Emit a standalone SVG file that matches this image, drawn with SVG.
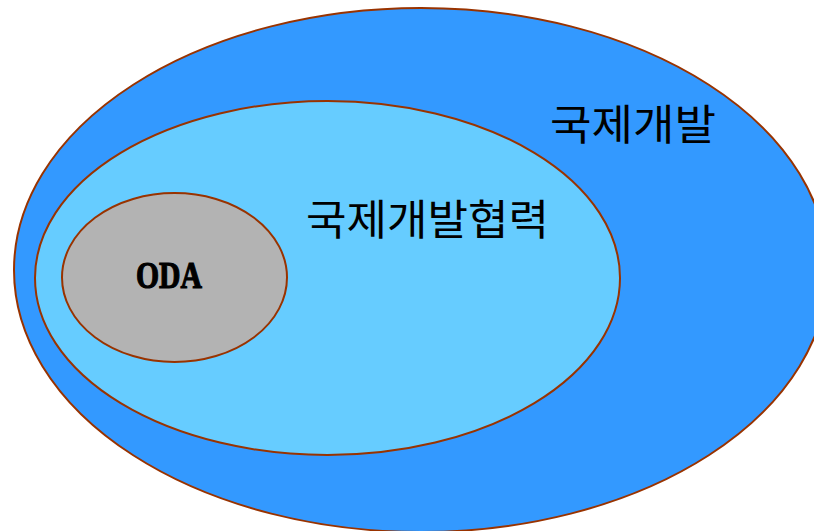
<svg xmlns="http://www.w3.org/2000/svg" width="814" height="531" viewBox="0 0 814 531">
<style>
.e{stroke:#993300;stroke-width:2}
.k{font-family:"Noto Sans CJK KR","Noto Sans",sans-serif;font-size:42px;fill:#000}
.o{font-family:"Liberation Serif","DejaVu Serif",serif;font-weight:bold;font-size:37px;fill:#000;stroke:#000;stroke-width:1.2}
</style>
<rect width="814" height="531" fill="#fff"/>
<g id="dev">
<ellipse class="e" cx="421" cy="270" rx="407" ry="262" fill="#3399ff"/>
<text class="k" x="550" y="140" textLength="166" lengthAdjust="spacingAndGlyphs">국제개발</text>
</g>
<g id="coop">
<ellipse class="e" cx="327.5" cy="278" rx="292.5" ry="177" fill="#66ccff"/>
<text class="k" x="306" y="235" textLength="243" lengthAdjust="spacingAndGlyphs">국제개발협력</text>
</g>
<g id="oda">
<ellipse class="e" cx="174.5" cy="277.5" rx="112.5" ry="84.5" fill="#b3b3b3"/>
<text class="o" x="136" y="288" textLength="66" lengthAdjust="spacingAndGlyphs">ODA</text>
</g>
<g id="connectors"/>
</svg>
